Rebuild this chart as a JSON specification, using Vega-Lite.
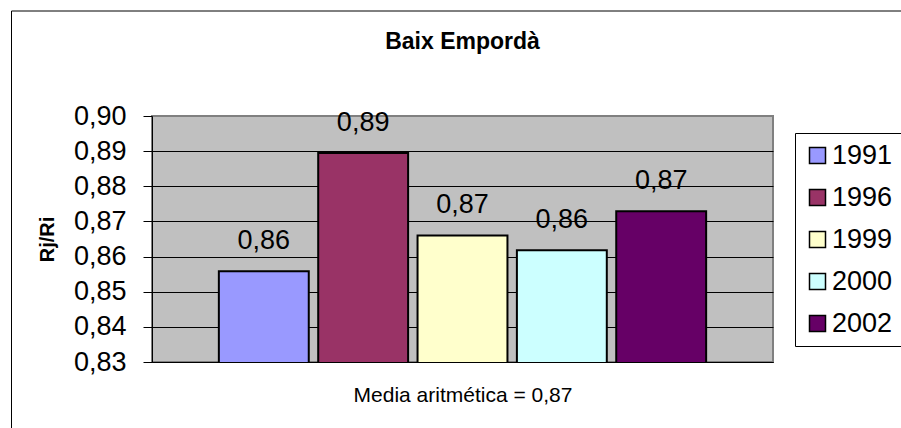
{
  "$schema": "https://vega.github.io/schema/vega-lite/v6.json",
  "width": 621,
  "height": 246,
  "autosize": {"type": "none"},
  "padding": {"left": 152, "top": 116, "right": 128, "bottom": 66},
  "background": "white",
  "title": {
    "text": "Baix Empordà",
    "fontSize": 23,
    "font": "Liberation Sans",
    "fontWeight": "bold",
    "color": "#000",
    "anchor": "middle",
    "frame": "group",
    "baseline": "alphabetic",
    "offset": -61.5
  },
  "data": {
    "values": [
      {"year": "1991", "value": 0.8558},
      {"year": "1996", "value": 0.8895},
      {"year": "1999", "value": 0.866},
      {"year": "2000", "value": 0.8618},
      {"year": "2002", "value": 0.8729}
    ]
  },
  "encoding": {
    "x": {
      "field": "year",
      "type": "nominal",
      "sort": null,
      "scale": {"paddingInner": 0.095, "paddingOuter": 0.673},
      "axis": {
        "title": "Media aritmética = 0,87",
        "labels": false,
        "ticks": false,
        "domainColor": "#000",
        "domainWidth": 1,
        "titleFont": "Liberation Sans",
        "titleFontSize": 21,
        "titleFontWeight": "normal",
        "titleColor": "#000",
        "titlePadding": 39,
        "titleBaseline": "alphabetic"
      }
    },
    "y": {
      "field": "value",
      "type": "quantitative",
      "scale": {"domain": [0.83, 0.9], "zero": false, "nice": false},
      "axis": {
        "values": [0.83, 0.84, 0.85, 0.86, 0.87, 0.88, 0.89, 0.9],
        "labelExpr": "replace(format(datum.value, '.2f'), '.', ',')",
        "labelFont": "Liberation Sans",
        "labelFontSize": 27,
        "labelColor": "#000",
        "labelPadding": 17,
        "tickColor": "#000",
        "tickSize": 9,
        "domainColor": "#000",
        "grid": true,
        "gridColor": {"condition": {"test": "datum.value >= 0.899", "value": "#808080"}, "value": "#000"},
        "gridWidth": 1,
        "gridOpacity": 1,
        "title": "Rj/Ri",
        "titleFont": "Liberation Sans",
        "titleFontSize": 20,
        "titleFontWeight": "bold",
        "titleColor": "#000",
        "titlePadding": 16
      }
    }
  },
  "layer": [
    {
      "mark": {"type": "bar", "stroke": "#000", "strokeWidth": 2, "clip": true},
      "encoding": {
        "color": {
          "field": "year",
          "type": "nominal",
          "scale": {
            "domain": ["1991", "1996", "1999", "2000", "2002"],
            "range": ["#9999FF", "#993366", "#FFFFCC", "#CCFFFF", "#660066"]
          },
          "legend": {
            "orient": "none",
            "legendX": 643,
            "legendY": 17,
            "title": null,
            "padding": 9,
            "strokeColor": "#000",
            "fillColor": "#FFFFFF",
            "symbolType": "square",
            "symbolSize": 256,
            "symbolStrokeColor": "#000",
            "symbolStrokeWidth": 1.5,
            "symbolOpacity": 1,
            "labelFont": "Liberation Sans",
            "labelFontSize": 27,
            "labelColor": "#000",
            "labelOffset": 1,
            "rowPadding": 14,
            "labelExpr": "datum.label + '    '"
          }
        }
      }
    },
    {
      "mark": {
        "type": "text",
        "baseline": "alphabetic",
        "dy": -22,
        "fontSize": 27,
        "font": "Liberation Sans",
        "color": "#000",
        "text": {"expr": "replace(format(datum.value, '.2f'), '.', ',')"}
      },
      "encoding": {}
    },
    {
      "mark": {"type": "point", "opacity": 0},
      "encoding": {
        "size": {
          "field": "value",
          "type": "quantitative",
          "legend": {
            "orient": "none",
            "legendX": -141,
            "legendY": -105.5,
            "padding": 460,
            "title": null,
            "values": [0.86],
            "strokeColor": "#000",
            "symbolOpacity": 0,
            "labelOpacity": 0,
            "labelExpr": "''"
          }
        }
      }
    }
  ],
  "config": {
    "font": "Liberation Sans",
    "view": {"fill": "#C0C0C0", "stroke": "#808080", "strokeWidth": 2}
  }
}
